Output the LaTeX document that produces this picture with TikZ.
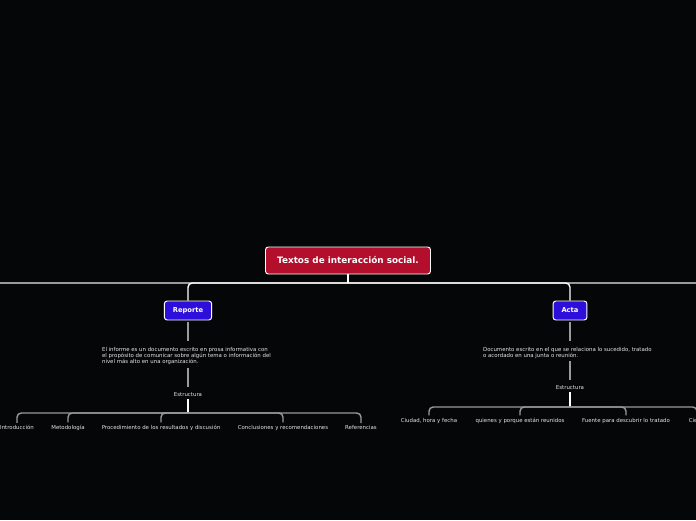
\documentclass[tikz,border=0pt]{standalone}
\usepackage{fontspec}
\setmainfont{DejaVu Sans}
\definecolor{TIBack}{HTML}{050608}
\definecolor{TIRed}{HTML}{B30F2C}
\definecolor{TIBlue}{HTML}{2C0FDB}
\definecolor{TIGray}{HTML}{9A9A9A}
\definecolor{TIText}{HTML}{E6E6E6}

\tikzset{
  rootbox/.style={fill=TIRed,draw=white,line width=0.7pt,rounded corners=2pt,
    minimum width=165*0.025cm,minimum height=27*0.025cm,inner sep=0pt,
    text=white,font=\fontsize{6.3}{7.5}\selectfont\bfseries},
  topicbox/.style={fill=TIBlue,draw=white,line width=0.7pt,rounded corners=2pt,
    minimum height=19*0.025cm,inner xsep=6pt,inner ysep=0pt,
    text=white,font=\fontsize{4.8}{6}\selectfont\bfseries},
  desc/.style={text=TIText,align=left,inner sep=2pt,
    font=\fontsize{3.85}{4.3}\selectfont},
  leaf/.style={text=TIText,inner sep=1.5pt,font=\fontsize{3.85}{4.3}\selectfont},
  grayline/.style={draw=TIGray,line width=1pt},
  whiteline/.style={draw=white,line width=1pt},
}

\begin{document}
\begin{tikzpicture}[x=0.025cm,y=-0.025cm]
\fill[TIBack] (0,0) rectangle (696,520);
\path[use as bounding box] (0,0) rectangle (696,520);

% main level
\node[rootbox] (root) at (348,260.5) {Textos de interacción social.};
\coordinate (barL) at (0,283);
\coordinate (barR) at (696,283);
\draw[grayline] (barL) -- (barR);
\node[topicbox] (rep) at (188,310.5) {Reporte};
\node[topicbox] (acta) at (570,310.5) {Acta};
\draw[whiteline] (root.south) -- (root.south |- barL);
\draw[whiteline,rounded corners=3pt] (rep.north) -- (rep.north |- barL) -| (acta.north);

% Reporte
\node[desc,anchor=north west] (repd) at (99,344) {El informe es un documento escrito en prosa informativa con\\el propósito de comunicar sobre algún tema o información del\\nivel más alto en una organización.};
\node[leaf] (rest) at (188,394.5) {Estructura};
\draw[grayline,shorten <=1pt,shorten >=2pt] (rep.south) -- (rep.south |- repd.north);
\draw[grayline,shorten >=2pt] (rep.south |- repd.south) -- (rest.north);
\coordinate (rbar) at (188,413);
\draw[whiteline] (rest.south) -- (rbar);
\foreach \x/\t [count=\i] in {17/Introducción,68/Metodología,161/Procedimiento de los resultados y discusión,283/Conclusiones y recomendaciones,361/Referencias}{
  \node[leaf] (rc\i) at (\x,427.5) {\t};
  \draw[grayline,rounded corners=3pt] (rbar) -| (rc\i.north);
}

% Acta
\node[desc,anchor=north west] (actad) at (480,344) {Documento escrito en el que se relaciona lo sucedido, tratado\\o acordado en una junta o reunión.};
\node[leaf] (aest) at (570,387.5) {Estructura};
\draw[grayline,shorten <=1pt,shorten >=2pt] (acta.south) -- (acta.south |- actad.north);
\draw[grayline,shorten >=2pt] (acta.south |- actad.south) -- (aest.north);
\coordinate (abar) at (570,407);
\draw[whiteline] (aest.south) -- (abar);
\foreach \x/\t [count=\i] in {429/{Ciudad, hora y fecha},520/quienes y porque están reunidos,626/Fuente para descubrir lo tratado,697/Cierre}{
  \node[leaf] (ac\i) at (\x,420.5) {\t};
  \draw[grayline,rounded corners=3pt] (abar) -| (ac\i.north);
}
\end{tikzpicture}
\end{document}
